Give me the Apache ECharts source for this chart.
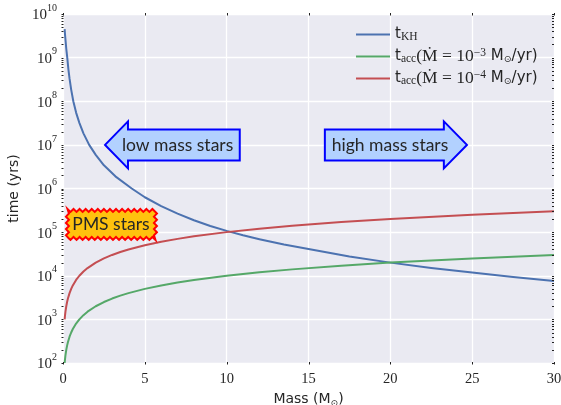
<!DOCTYPE html>
<html><head><meta charset="utf-8">
<script src="https://cdn.jsdelivr.net/npm/echarts@6/dist/echarts.min.js"></script>
<style>html,body{margin:0;padding:0;background:#fff}#c{width:561px;height:405px}</style>
</head><body><div id="c"></div>
<script>
// ---- data ----
const khMass  = [0.1, 0.12, 0.15, 0.2, 0.26, 0.33, 0.4, 0.5, 0.63, 0.8, 1.0, 1.25, 1.6, 2.0, 2.5, 3.2, 4.2, 5, 6, 7, 8, 9, 10, 11, 12, 13.5, 15, 17.5, 20, 22.5, 25, 27.5, 30];
const khYears = [4.5e9, 3.5e9, 2.6e9, 1.6e9, 1.0e9, 5.4e8, 3.3e8, 1.85e8, 1.0e8, 5.5e7, 3.2e7, 1.84e7, 1.0e7, 5.9e6, 3.4e6, 1.9e6, 1.0e6, 6.3e5, 3.96e5, 2.65e5, 1.87e5, 1.38e5, 1.07e5, 8.5e4, 6.9e4, 5.2e4, 4.1e4, 2.76e4, 2.0e4, 1.5e4, 1.18e4, 9.4e3, 7.6e3];
const accMass  = [0.1, 0.12, 0.15, 0.2, 0.25, 0.3, 0.4, 0.5, 0.6, 0.8, 1, 1.25, 1.5, 2, 2.5, 3, 3.5, 4, 5, 6, 7, 8, 10, 12, 14, 17, 20, 25, 30];
const accFast  = [100, 120, 150, 200, 250, 300, 400, 500, 600, 800, 1000, 1250, 1500, 2000, 2500, 3000, 3500, 4000, 5000, 6000, 7000, 8000, 10000, 12000, 14000, 17000, 20000, 25000, 30000];
const accSlow  = [1000, 1200, 1500, 2000, 2500, 3000, 4000, 5000, 6000, 8000, 10000, 12500, 15000, 20000, 25000, 30000, 35000, 40000, 50000, 60000, 70000, 80000, 100000, 120000, 140000, 170000, 200000, 250000, 300000];
const xTicks = [0, 5, 10, 15, 20, 25, 30];
const yExponents = [2, 3, 4, 5, 6, 7, 8, 9, 10];
const minorMantissas = [2, 3, 4, 5, 6, 7, 8, 9];
const seriesNames = ['kh', 'acc3', 'acc4'];
const colors = ['#4C72B0', '#55A868', '#C44E52'];

const minorValues = [];
yExponents.slice(0, -1).forEach(e => minorMantissas.forEach(m => minorValues.push(m * Math.pow(10, e))));
const majorValues = yExponents.map(e => Math.pow(10, e));

const zip = (a, b) => a.map((v, i) => [v, b[i]]);
const serif = 'Liberation Serif';
const sans = 'DejaVu Sans';
const txt = '#262626';

const chart = echarts.init(document.getElementById('c'), null, {renderer: 'canvas'});

const legendRich = {
  t:   {fontFamily: sans, fontSize: 15, color: txt, lineHeight: 20, verticalAlign: 'middle'},
  sb:  {fontFamily: serif, fontSize: 11.5, color: txt, lineHeight: 20, verticalAlign: 'bottom', padding: [0,0,2,0]},
  r:   {fontFamily: serif, fontSize: 17.5, color: txt, lineHeight: 20, verticalAlign: 'middle'},
  sp:  {fontFamily: serif, fontSize: 11.5, color: txt, lineHeight: 20, verticalAlign: 'top', padding: [0,0,0,0]},
  o:   {fontFamily: sans, fontSize: 9.5, color: txt, lineHeight: 20, verticalAlign: 'bottom', padding: [0,0,2,0]}
};
const legendText = {
  kh:   '{t|t}{sb|KH}',
  acc3: '{t|t}{sb|acc}{r|(Ṁ = 10}{sp|−3}{t| M}{o|⊙}{t|/yr)}',
  acc4: '{t|t}{sb|acc}{r|(Ṁ = 10}{sp|−4}{t| M}{o|⊙}{t|/yr)}'
};

chart.setOption({
  animation: false,
  backgroundColor: '#fff',
  grid: {left: 63, right: 7, top: 14, bottom: 42, show: true, backgroundColor: '#EAEAF2', borderWidth: 0, outerBoundsMode: 'none', containLabel: false},
  xAxis: {
    type: 'value', min: 0, max: 30, interval: 5,
    name: '{a|Mass (M}{s|⊙}{a|)}', nameLocation: 'middle', nameGap: 24,
    nameTextStyle: {rich: {a: {fontFamily: sans, fontSize: 14, color: txt, lineHeight: 18}, s: {fontFamily: sans, fontSize: 9, color: txt, verticalAlign: 'bottom', lineHeight: 18}}},
    axisLine: {show: false},
    axisTick: {show: false},
    splitLine: {show: true, lineStyle: {color: '#ffffff', width: 1.3}},
    axisLabel: {fontFamily: serif, fontSize: 14.5, color: txt, margin: 9}
  },
  yAxis: {
    type: 'log', logBase: 10, min: 1e2, max: 1e10,
    name: 'time (yrs)', nameLocation: 'middle', nameGap: 39,
    nameTextStyle: {fontFamily: sans, fontSize: 14, color: txt},
    axisLine: {show: false}, axisTick: {show: false},
    splitLine: {show: true, lineStyle: {color: '#ffffff', width: 1.3}},
    axisLabel: {
      margin: 6,
      formatter: v => '{b|10}{s|' + Math.round(Math.log10(v)) + '}',
      rich: {
        b: {fontFamily: serif, fontSize: 15, color: txt, lineHeight: 22, verticalAlign: 'bottom', padding: [0,0,2,0]},
        s: {fontFamily: serif, fontSize: 10, color: txt, lineHeight: 22, verticalAlign: 'top'}
      }
    }
  },
  legend: {
    orient: 'vertical', left: 351, top: 22, itemWidth: 34, itemHeight: 10, itemGap: 2,
    icon: 'path://M0,0 L34,0 L34,2 L0,2 Z',
    data: seriesNames,
    formatter: n => legendText[n],
    textStyle: {rich: legendRich, color: txt},
    itemStyle: {borderWidth: 0}
  },
  series: [
    {name: 'kh', type: 'line', data: zip(khMass, khYears), color: colors[0]},
    {name: 'acc3', type: 'line', data: zip(accMass, accFast), color: colors[1]},
    {name: 'acc4', type: 'line', data: zip(accMass, accSlow), color: colors[2]}
  ].map(s => Object.assign(s, {showSymbol: false, symbol: 'none', smooth: false, lineStyle: {width: 2, color: s.color, join: 'round'}, itemStyle: {color: s.color}, z: 3}))
});

// ---- annotations (arrows, PMS box, frame ticks) ----
function px(m, t) { return chart.convertToPixel({seriesIndex: 0}, [m, t]); }
const boxText = {fontFamily: 'Lato', fontSize: 17.5, fill: '#262626'};
const arrowStyle = {fill: '#B2D1FF', stroke: '#0000FF', lineWidth: 2};

const lowTip = px(2.57, 1e7), lowHead = px(3.97, 1e7), lowEnd = px(10.8, 1e7), lowTxt = px(7.0, 1e7);
const hiStart = px(16.0, 1e7), hiHead = px(23.27, 1e7), hiTip = px(24.68, 1e7), hiTxt = px(19.98, 1e7);
const yc = lowTip[1], hb = 15.5, hh = 23.5;

const lowPts = [[lowTip[0], yc], [lowHead[0], yc - hh], [lowHead[0], yc - hb], [lowEnd[0], yc - hb], [lowEnd[0], yc + hb], [lowHead[0], yc + hb], [lowHead[0], yc + hh]];
const hiPts = [[hiTip[0], yc], [hiHead[0], yc - hh], [hiHead[0], yc - hb], [hiStart[0], yc - hb], [hiStart[0], yc + hb], [hiHead[0], yc + hb], [hiHead[0], yc + hh]];

// sawtooth outline for PMS box
const pmsC = px(2.93, 1.5e5);
const bw = 89, bh = 28, amp = 1.5, step = 3;
const x0 = pmsC[0] - bw / 2 + 1, x1 = pmsC[0] + bw / 2, y0 = pmsC[1] - bh / 2, y1 = pmsC[1] + bh / 2;
const saw = [];
let k = 0;
function edge(ax, ay, bx, by, nx, ny) {
  const len = Math.hypot(bx - ax, by - ay), n = Math.round(len / step);
  for (let i = 0; i < n; i++) {
    const f = i / n, s = (k++ % 2 === 0) ? amp : -amp;
    saw.push([ax + (bx - ax) * f + nx * s, ay + (by - ay) * f + ny * s]);
  }
}
edge(x0, y0, x1, y0, 0, -1);
edge(x1, y0, x1, y1, 1, 0);
edge(x1, y1, x0, y1, 0, 1);
edge(x0, y1, x0, y0, -1, 0);

// tick marks on the frame (log minor ticks on both sides, x ticks on top and bottom)
const lo = px(0, 1e2), hi = px(30, 1e10);
const tickStyle = {stroke: '#222', lineWidth: 1};
const ticks = [];
minorValues.concat(majorValues).forEach(v => {
  const y = Math.round(px(0, v)[1]) + 0.5;
  ticks.push({type: 'line', shape: {x1: lo[0] - 1.5, y1: y, x2: lo[0] + 0.5, y2: y}, style: tickStyle, z: 12, silent: true});
  ticks.push({type: 'line', shape: {x1: hi[0] - 2, y1: y, x2: hi[0], y2: y}, style: tickStyle, z: 12, silent: true});
});
xTicks.forEach(m => {
  const x = Math.round(px(m, 1e2)[0]) + 0.5;
  ticks.push({type: 'line', shape: {x1: x, y1: lo[1] - 1, x2: x, y2: lo[1] + 1.5}, style: tickStyle, z: 12, silent: true});
  ticks.push({type: 'line', shape: {x1: x, y1: hi[1] - 1, x2: x, y2: hi[1] + 1.5}, style: tickStyle, z: 12, silent: true});
});

chart.setOption({
  graphic: ticks.concat([
    {type: 'polygon', shape: {points: lowPts}, style: arrowStyle, z: 10},
    {type: 'text', x: lowTxt[0], y: lowTxt[1], style: Object.assign({text: 'low mass stars', align: 'center', verticalAlign: 'middle'}, boxText), z: 11},
    {type: 'polygon', shape: {points: hiPts}, style: arrowStyle, z: 10},
    {type: 'text', x: hiTxt[0], y: hiTxt[1], style: Object.assign({text: 'high mass stars', align: 'center', verticalAlign: 'middle'}, boxText), z: 11},
    {type: 'polygon', shape: {points: saw}, style: {fill: '#FFC20E', stroke: '#FF0000', lineWidth: 2, lineJoin: 'miter'}, z: 10},
    {type: 'text', x: pmsC[0], y: pmsC[1], style: Object.assign({text: 'PMS stars', align: 'center', verticalAlign: 'middle'}, boxText), z: 11}
  ])
});
</script></body></html>
